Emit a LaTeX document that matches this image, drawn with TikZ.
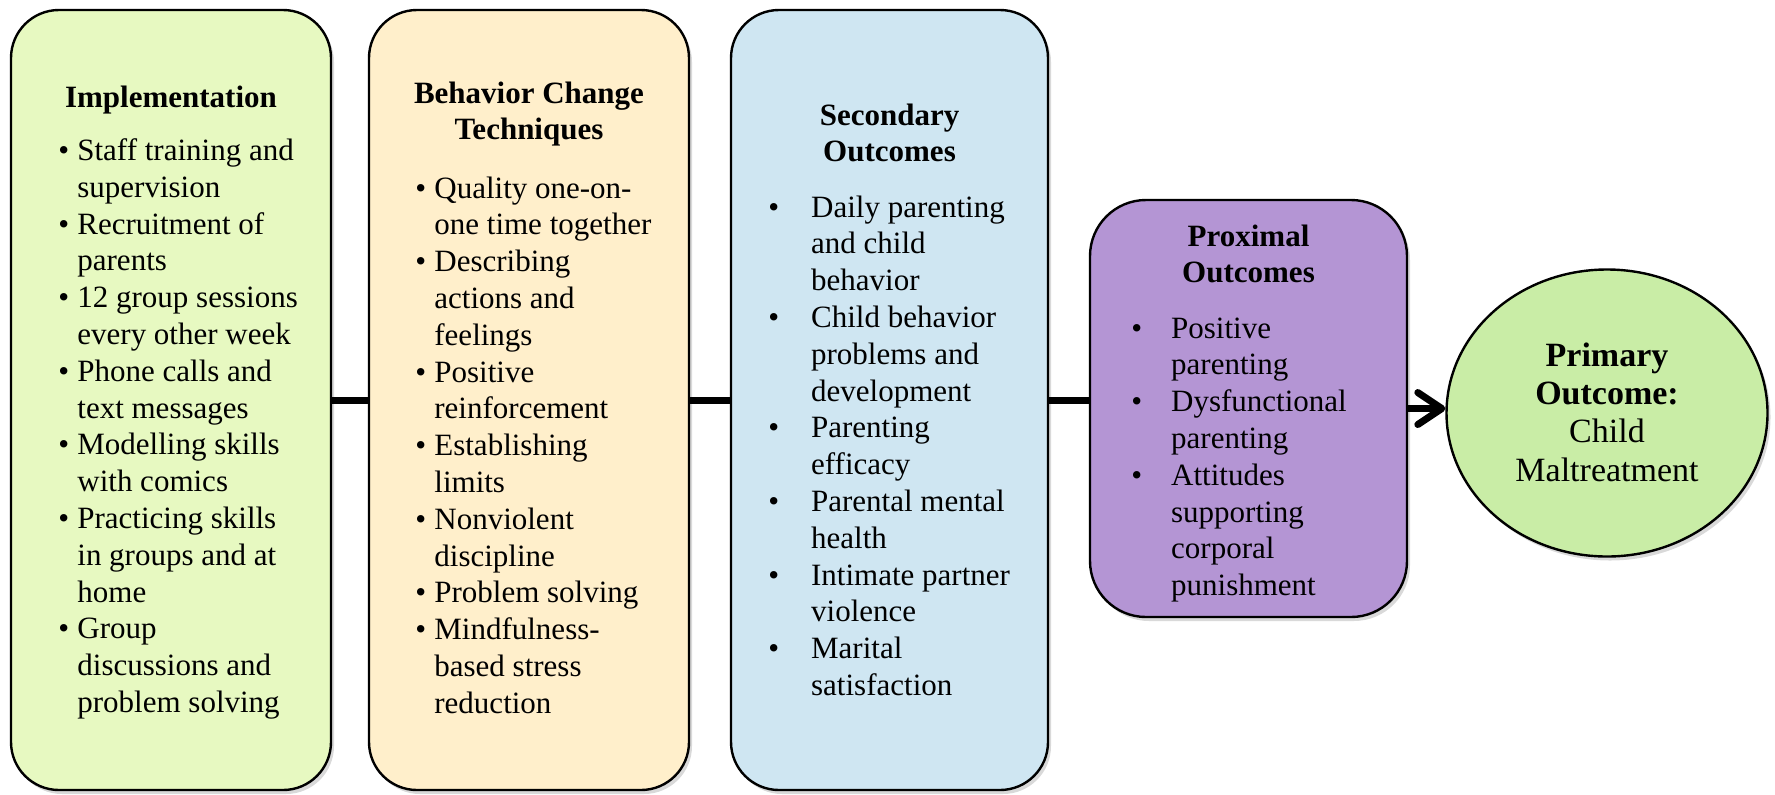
\documentclass[tikz,border=0pt]{standalone}
\usepackage{fontspec}
\setmainfont{Liberation Serif}
\usetikzlibrary{shadows,arrows.meta,shapes.geometric}

\definecolor{implfill}{HTML}{E7F9C1}
\definecolor{bctfill}{HTML}{FFEFCB}
\definecolor{secfill}{HTML}{CFE6F2}
\definecolor{proxfill}{HTML}{B495D4}
\definecolor{primfill}{HTML}{C9EDA6}

\newcommand{\itm}[1][9.5pt]{\makebox[#1][l]{\textbullet}}
\newcommand{\cnt}[1][9.5pt]{\hspace*{#1}}

\tikzset{
stage/.style={rectangle, rounded corners=24pt, draw=black, line width=1.2pt,
  drop shadow={shadow xshift=1.5pt, shadow yshift=-2pt, opacity=0.3}},
% text nodes sit on the baseline of their first line
head/.style={anchor=north, yshift=12.88pt, align=center, inner sep=0pt,
  font=\fontsize{15.5}{18.4}\selectfont\bfseries, execute at begin node=\strut},
lst/.style={anchor=north west, yshift=12.88pt, align=left, inner sep=0pt,
  font=\fontsize{15.5}{18.4}\selectfont, execute at begin node=\strut},
link/.style={line width=3.5pt},
}

\begin{document}
\begin{tikzpicture}[x=0.5pt, y=-0.5pt]
% 1 unit = 1 pixel of the 1775x794 picture
\useasboundingbox (0, 0) rectangle (1775, 794);
\node[stage, fill=implfill, minimum width=160pt, minimum height=390pt] (impl) at (171, 400) {};
\node[stage, fill=bctfill, minimum width=160pt, minimum height=390pt] (bct) at (529, 400) {};
\node[stage, fill=secfill, minimum width=158.5pt, minimum height=390pt] (sec) at (889.5, 400) {};
\node[stage, fill=proxfill, rounded corners=28pt, minimum width=158.5pt, minimum height=208.5pt] (prox) at (1248.5, 408.5) {};
\node[ellipse, draw=black, line width=1.2pt, fill=primfill, minimum width=160.5pt, minimum height=143.5pt,
  drop shadow={shadow xshift=1.5pt, shadow yshift=-2pt, opacity=0.3}] (prim) at (1607, 413) {};

\draw[link] (impl.east) -- (bct.west);
\draw[link] (bct.east) -- (sec.west);
\draw[link] (sec.east) -- (sec.east -| prox.west);
\draw[link, -{Straight Barb[round, length=12pt, width=16pt]}] (prox.east) -- (prox.east -| prim.west);

\node[head] (implhead) at (171, 107) {Implementation};
\node[lst] (impllist) at (58, 164) {\itm Staff training and\\ \cnt supervision\\
  \itm Recruitment of\\ \cnt parents\\
  \itm 12 group sessions\\ \cnt every other week\\
  \itm Phone calls and\\ \cnt text messages\\
  \itm Modelling skills\\ \cnt with comics\\
  \itm Practicing skills\\ \cnt in groups and at\\ \cnt home\\
  \itm Group\\ \cnt discussions and\\ \cnt problem solving};

\node[head] (bcthead) at (529, 107) {Behavior Change\\Techniques};
\node[lst] (bctlist) at (415, 202) {\itm Quality one-on-\\ \cnt one time together\\
  \itm Describing\\ \cnt actions and\\ \cnt feelings\\
  \itm Positive\\ \cnt reinforcement\\
  \itm Establishing\\ \cnt limits\\
  \itm Nonviolent\\ \cnt discipline\\
  \itm Problem solving\\
  \itm Mindfulness-\\ \cnt based stress\\ \cnt reduction};

\node[head] (sechead) at (889.5, 129) {Secondary\\Outcomes};
\node[lst] (seclist) at (768, 221) {\itm[17.5pt] Daily parenting\\ \cnt[17.5pt] and child\\ \cnt[17.5pt] behavior\\
  \itm[17.5pt] Child behavior\\ \cnt[17.5pt] problems and\\ \cnt[17.5pt] development\\
  \itm[17.5pt] Parenting\\ \cnt[17.5pt] efficacy\\
  \itm[17.5pt] Parental mental\\ \cnt[17.5pt] health\\
  \itm[17.5pt] Intimate partner\\ \cnt[17.5pt] violence\\
  \itm[17.5pt] Marital\\ \cnt[17.5pt] satisfaction};

\node[head] (proxhead) at (1248.5, 250) {Proximal\\Outcomes};
\node[lst] (proxlist) at (1131, 343) {\itm[16pt] Positive\\ \cnt[16pt] parenting\\
  \itm[16pt] Dysfunctional\\ \cnt[16pt] parenting\\
  \itm[16pt] Attitudes\\ \cnt[16pt] supporting\\ \cnt[16pt] corporal\\ \cnt[16pt] punishment};

\node[anchor=north, yshift=13.44pt, align=center, inner sep=0pt, font=\fontsize{17}{19.2}\selectfont,
  execute at begin node=\strut] (primtext) at (1607, 369)
  {\textbf{Primary}\\ \textbf{Outcome:}\\ Child\\ Maltreatment};
\end{tikzpicture}
\end{document}
